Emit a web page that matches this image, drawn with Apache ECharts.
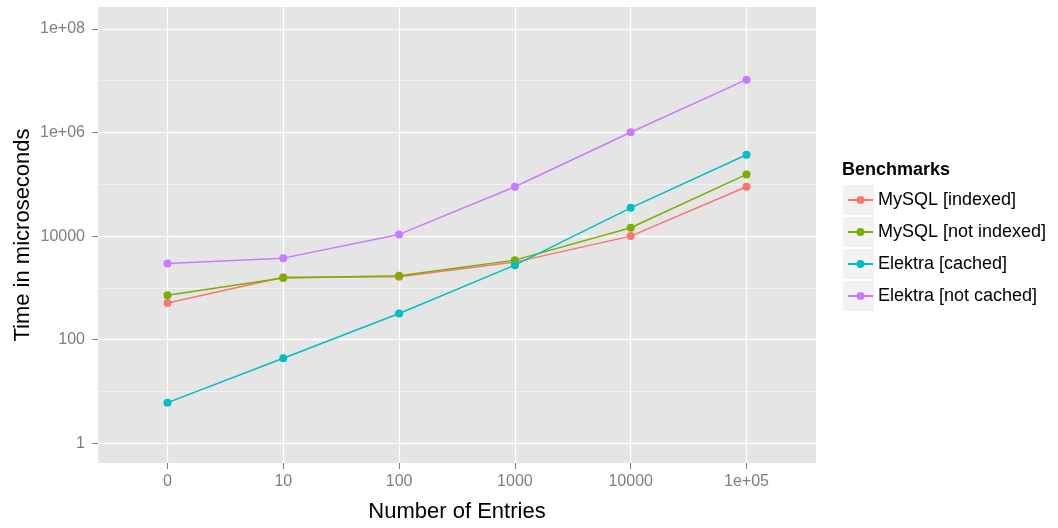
<!DOCTYPE html>
<html><head><meta charset="utf-8">
<script src="https://cdn.jsdelivr.net/npm/echarts@6/dist/echarts.min.js"></script>
<style>html,body{margin:0;padding:0;background:#fff}#c{width:1058px;height:528px}</style>
</head><body><div id="c"></div>
<script>
// ---- data ----
const xCategories = ['0', '10', '100', '1000', '10000', '1e+05'];
const seriesNames = ['MySQL [indexed]', 'MySQL [not indexed]', 'Elektra [cached]', 'Elektra [not cached]'];
const mysqlIndexed     = [514, 1600, 1650, 3150, 10000, 89700];
const mysqlNotIndexed  = [724, 1560, 1720, 3440, 14500, 155600];
const elektraCached    = [6.1, 44, 321, 2750, 35200, 372000];
const elektraNotCached = [2970, 3760, 10800, 89700, 1010000, 10500000];
const yTickValues = [1, 100, 10000, 1000000, 100000000];
const yTickLabels = ['1', '100', '10000', '1e+06', '1e+08'];
const xTickValues = [0, 1, 2, 3, 4, 5];

// ---- styling ----
const colors = ['#F8766D', '#7CAE00', '#00BFC4', '#C77CFF'];
const FONT = 'Liberation Sans, Arial, sans-serif';
const allSeries = [mysqlIndexed, mysqlNotIndexed, elektraCached, elektraNotCached];

const chart = echarts.init(document.getElementById('c'), null, {renderer: 'canvas'});

const yMin = 0.417, yMax = 2.65e8;

function yLabel(v) {
  const lv = Math.log10(v);
  const idx = yTickValues.findIndex(t => Math.abs(Math.log10(t) - lv) < 1e-6);
  return idx >= 0 ? yTickLabels[idx] : '';
}

const keyTop = [185, 217, 249, 281];

const option = {
  animation: false,
  backgroundColor: '#FFFFFF',
  title: {
    text: 'Benchmarks', left: 842, top: 161, padding: 0,
    textStyle: {fontFamily: FONT, fontSize: 18, fontWeight: 'bold', color: '#000'}
  },
  graphic: keyTop.map(t => ({
    type: 'rect', left: 843, top: t, z: -1, silent: true,
    shape: {width: 31, height: 30}, style: {fill: '#F2F2F2'}
  })),
  legend: {
    orient: 'vertical', left: 847, top: 190, padding: 0,
    itemWidth: 25, itemHeight: 10, itemGap: 12,
    selectedMode: false,
    textStyle: {fontFamily: FONT, fontSize: 18, color: '#000', lineHeight: 20},
    data: seriesNames
  },
  grid: {
    left: 98, right: 242, top: 7, bottom: 65,
    show: true, backgroundColor: '#E5E5E5', borderWidth: 0
  },
  xAxis: {
    type: 'value', min: -0.6, max: 5.6,
    name: 'Number of Entries', nameLocation: 'middle', nameGap: 38,
    nameTextStyle: {fontFamily: FONT, fontSize: 22, color: '#000'},
    axisLine: {show: false, onZero: false},
    axisTick: {show: true, length: 6, customValues: xTickValues, lineStyle: {color: '#7F7F7F', width: 1}},
    axisLabel: {customValues: xTickValues, formatter: v => xCategories[Math.round(v)],
      fontFamily: FONT, fontSize: 16, color: '#7F7F7F', margin: 11},
    splitLine: {show: true, lineStyle: {color: '#FFFFFF', width: 1.3}}
  },
  yAxis: [{
    type: 'log', logBase: 10, min: yMin, max: yMax, z: 1,
    name: 'Time in microseconds', nameLocation: 'middle', nameGap: 64, nameMoveOverlap: false,
    nameTextStyle: {fontFamily: FONT, fontSize: 22, color: '#000'},
    axisLine: {show: false, onZero: false},
    axisTick: {show: true, length: 6, customValues: yTickValues, lineStyle: {color: '#7F7F7F', width: 1}},
    axisLabel: {customValues: yTickValues, formatter: yLabel,
      fontFamily: FONT, fontSize: 16, color: '#7F7F7F', margin: 13},
    splitLine: {show: true, lineStyle: {color: '#FFFFFF', width: 1.3}}
  }, {
    type: 'log', logBase: 10, min: yMin, max: yMax, z: 0, position: 'left',
    axisLine: {show: false, onZero: false}, axisTick: {show: false}, axisLabel: {show: false},
    splitLine: {show: true, showMinLine: false, showMaxLine: false, lineStyle: {color: '#F2F2F2', width: 1}}
  }],
  series: seriesNames.map((name, i) => ({
    name, type: 'line', yAxisIndex: 0,
    data: allSeries[i].map((v, j) => [xTickValues[j], v]),
    symbol: 'circle', symbolSize: 8,
    lineStyle: {color: colors[i], width: 1.5},
    itemStyle: {color: colors[i]},
    emphasis: {disabled: true}
  }))
};
chart.setOption(option);
</script></body></html>
